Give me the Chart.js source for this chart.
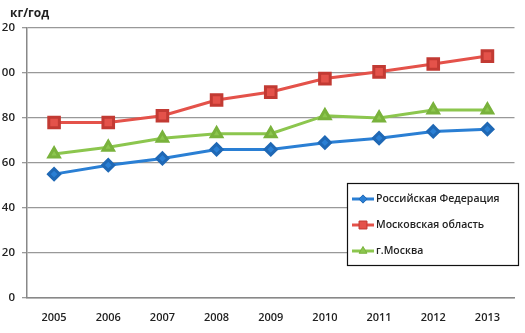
<!DOCTYPE html>
<html>
<head>
<meta charset="utf-8">
<script src="https://cdn.jsdelivr.net/npm/chart.js@4.4.1/dist/chart.umd.min.js"></script>
<style>
  html, body { margin: 0; padding: 0; background: #fff; overflow: hidden; }
  #wrap { position: absolute; left: -20px; top: 0; width: 545px; height: 333px; }
  #unit { position: absolute; left: 10px; top: 4px; font: bold 12px "Open Sans", sans-serif; color: #222; }
</style>
</head>
<body>
<div id="wrap"><canvas id="chart"></canvas></div>
<div id="unit">кг/год</div>
<script>
// Years and values, kg per year
let years = ['2005', '2006', '2007', '2008', '2009', '2010', '2011', '2012', '2013'];
let russia = [55, 59, 62, 66, 66, 69, 71, 74, 75];
let moscowRegion = [78, 78, 81, 88, 91.5, 97.5, 100.5, 104, 107.5];
let moscowCity = [64, 67, 71, 73, 73, 81, 80, 83.5, 83.5];
let seriesNames = ['Российская Федерация', 'Московская область', 'г.Москва'];

let fontFamily = '"Open Sans", sans-serif';

// legend box drawn on the canvas, like the Excel original
let boxLegend = {
    id: 'boxLegend',
    afterDraw(chart) {
        let ctx = chart.ctx;
        let x = 367, y = 183, w = 171, h = 82;
        ctx.save();
        ctx.fillStyle = '#fff';
        ctx.fillRect(x, y, w, h);
        ctx.strokeStyle = '#111';
        ctx.lineWidth = 1.2;
        ctx.strokeRect(x + 0.5, y + 0.5, w, h);
        chart.data.datasets.forEach((ds, i) => {
            let cy = y + 16 + i * 26;
            ctx.strokeStyle = ds.borderColor;
            ctx.lineWidth = 3;
            ctx.beginPath();
            ctx.moveTo(x + 5, cy);
            ctx.lineTo(x + 27, cy);
            ctx.stroke();
            ctx.fillStyle = ds.pointBackgroundColor;
            ctx.strokeStyle = ds.pointBorderColor;
            ctx.lineWidth = 1;
            Chart.helpers.drawPoint(ctx, {
                pointStyle: ds.pointStyle,
                radius: ds.pointRadius * 0.75,
                borderWidth: 1,
                rotation: 0
            }, x + 16, cy);
            ctx.fillStyle = '#222';
            ctx.font = '600 10.5px ' + fontFamily;
            ctx.textBaseline = 'middle';
            ctx.fillText(ds.label, x + 29, cy);
        });
        ctx.restore();
    }
};

let ctx = document.getElementById('chart').getContext('2d');
let chart = new Chart(ctx, {
    type: 'line',
    data: {
        labels: years,
        datasets: [
            {
                label: seriesNames[0],
                data: russia,
                borderColor: '#2a7fd4',
                backgroundColor: '#2a7fd4',
                pointBackgroundColor: '#2a7fd4',
                pointBorderColor: '#1f68b5',
                pointStyle: 'rectRot',
                pointRadius: 5.5,
                borderWidth: 3,
            },
            {
                label: seriesNames[1],
                data: moscowRegion,
                borderColor: '#e4524a',
                backgroundColor: '#e4524a',
                pointBackgroundColor: '#e4524a',
                pointBorderColor: '#c23a33',
                pointStyle: 'rect',
                pointRadius: 7.5,
                borderWidth: 3,
            },
            {
                label: seriesNames[2],
                data: moscowCity,
                borderColor: '#8cc64e',
                backgroundColor: '#8cc64e',
                pointBackgroundColor: '#8cc64e',
                pointBorderColor: '#79b23c',
                pointStyle: 'triangle',
                pointRadius: 6,
                borderWidth: 3,
            },
        ]
    },
    options: {
        responsive: true,
        maintainAspectRatio: false,
        animation: false,
        layout: { padding: { top: 28, right: 7, bottom: 1, left: 0 } },
        plugins: {
            legend: { display: false },
            tooltip: { enabled: false },
        },
        elements: { line: { tension: 0 }, point: { borderWidth: 1 } },
        scales: {
            x: {
                offset: true,
                grid: { display: false, drawOnChartArea: false, tickLength: 5, color: '#888' },
                border: { color: '#888', width: 1.5 },
                ticks: { color: '#222', font: { family: fontFamily, size: 11, weight: '600' }, padding: 8 },
            },
            y: {
                min: 0,
                max: 120,
                ticks: { stepSize: 20, color: '#222', font: { family: fontFamily, size: 11.5, weight: '600' }, padding: 7 },
                grid: { color: '#999', lineWidth: 1.3, tickLength: 5 },
                border: { color: '#888', width: 1.5 },
                afterFit: function (scale) { scale.width = 47; },
            }
        }
    },
    plugins: [boxLegend]
});
</script>
</body>
</html>
